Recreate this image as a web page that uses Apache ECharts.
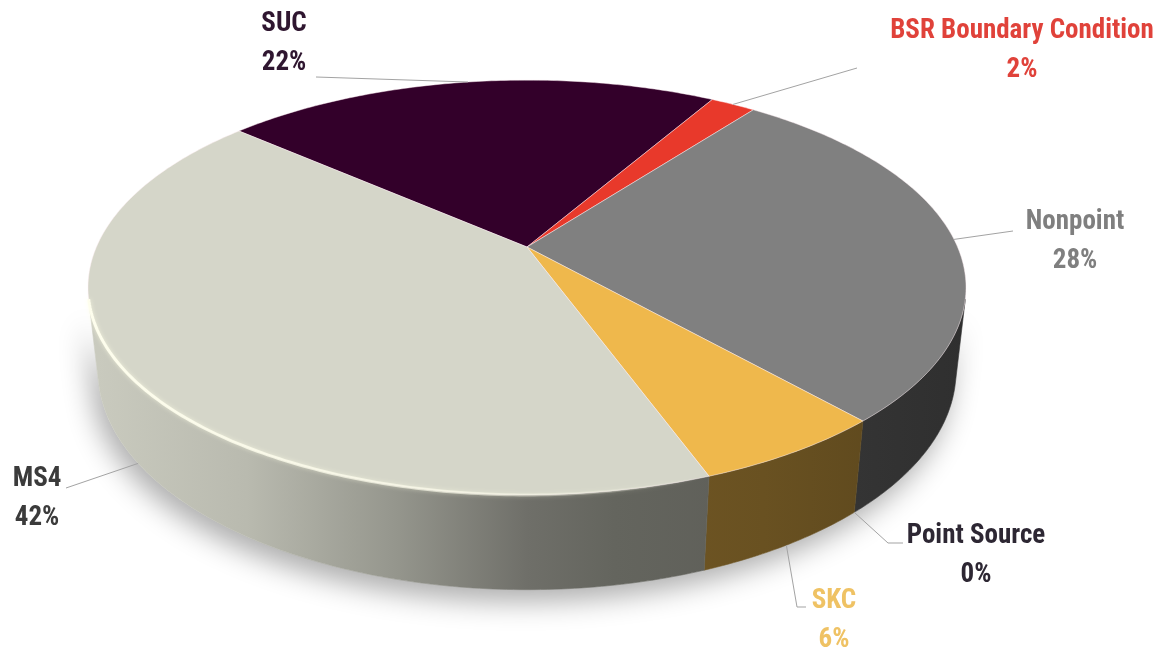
<!DOCTYPE html>
<html>
<head>
<meta charset="utf-8">
<script src="https://cdn.jsdelivr.net/npm/echarts@6/dist/echarts.min.js"></script>
<style>
  html, body { margin: 0; padding: 0; background: #ffffff; }
  #chart { width: 1168px; height: 649px; }
</style>
</head>
<body>
<div id="chart"></div>
<script>
// Load share by source category (percent)
const categories = ['SUC', 'BSR Boundary Condition', 'Nonpoint', 'Point Source', 'SKC', 'MS4'];
const shares = [22, 2, 28, 0, 6, 42];

// Slice and label colours
const sliceColors = ['#33002a', '#e8392b', '#808080', '#3a3a3a', '#efb84c', '#d5d6c9'];
const labelColors = ['#2f1630', '#e0423a', '#7f7f7f', '#2d2733', '#efc264', '#3b3b3b'];

// Perspective view of the disc: apex position, focal length, camera distance,
// tilt (degrees), disc thickness (in radii) and the angle where the first slice starts
const view = { cx: 527, cy: 247, focal: 1953, dist: 4.536, tilt: 27.6, depth: 0.22, startAngle: 139 };

// Label blocks: centre of the first text line and the leader's end point(s)
const labelLayout = {
  'SUC': { x: 284, y: 24, line: [[316, 77]] },
  'BSR Boundary Condition': { x: 1022, y: 31, line: [[857, 68]] },
  'Nonpoint': { x: 1075, y: 222, line: [[1013, 231]] },
  'Point Source': { x: 976, y: 536, line: [[888, 543], [903, 543]] },
  'SKC': { x: 834, y: 601, line: [[797, 607], [806, 607]] },
  'MS4': { x: 37, y: 479, line: [[66, 488]] }
};
const lineGap = 39;
const labelFont = "bold 27px 'Liberation Sans Narrow', 'Roboto Condensed', 'DejaVu Sans Condensed', sans-serif";

const RAD = Math.PI / 180;
const ca = Math.cos(view.tilt * RAD), sa = Math.sin(view.tilt * RAD);

function projectXY(X, Y, z) {
  const d = view.dist + Y * ca - z * sa;
  const up = Y * sa + z * ca;
  return [view.cx + view.focal * X / d, view.cy - view.focal * up / d];
}
function project(phi, z) {
  return projectXY(Math.cos(phi * RAD), Math.sin(phi * RAD), z);
}
function arc(a0, a1, z) {
  const pts = [];
  const n = Math.max(2, Math.ceil(Math.abs(a0 - a1) / 0.75));
  for (let i = 0; i <= n; i++) pts.push(project(a0 + (a1 - a0) * i / n, z));
  return pts;
}

// Slice angle ranges, clockwise from the start angle
const total = shares.reduce((a, b) => a + b, 0);
const sliceAngles = [];
(function () {
  let acc = 0;
  shares.forEach(v => {
    const a0 = view.startAngle - acc / total * 360;
    acc += v;
    const a1 = view.startAngle - acc / total * 360;
    sliceAngles.push([a0, a1]);
  });
})();

// Angular range of the outer wall that faces the camera
const edge = Math.asin(1 / (view.dist * ca)) / RAD;
const frontLo = -180 + edge, frontHi = -edge;
function frontSegments(a0, a1) {
  const segs = [];
  for (let k = -1; k <= 1; k++) {
    const lo = frontLo + 360 * k, hi = frontHi + 360 * k;
    const s = Math.min(a0, hi), e = Math.max(a1, lo);
    if (s - e > 0.01) segs.push([s, e]);
  }
  return segs;
}

function shade(hex, f) {
  const n = parseInt(hex.slice(1), 16);
  const r = Math.round(((n >> 16) & 255) * f), g = Math.round(((n >> 8) & 255) * f), b = Math.round((n & 255) * f);
  return 'rgb(' + r + ',' + g + ',' + b + ')';
}
const wallLight = [[0, 0.95], [0.18, 0.87], [0.35, 0.7], [0.5, 0.52], [0.6, 0.47], [0.77, 0.44], [1, 0.37]];
const leftX = project(180 + edge, 0)[0], rightX = project(-edge, 0)[0];
function wallFill(color) {
  return new echarts.graphic.LinearGradient(leftX, 0, rightX, 0,
    wallLight.map(s => ({ offset: s[0], color: shade(color, s[1]) })), true);
}

const seriesData = shares.map((v, i) => ({ name: categories[i], value: v }));
const chart = echarts.init(document.getElementById('chart'), null, { renderer: 'canvas' });

chart.setOption({
  backgroundColor: '#ffffff',
  animation: false,
  series: [
    {
      // outer walls with the soft drop shadow beneath the disc
      type: 'custom',
      coordinateSystem: 'none',
      z: 1,
      silent: true,
      data: seriesData,
      renderItem: function (params) {
        const i = params.dataIndex;
        const [a0, a1] = sliceAngles[i];
        const children = [];
        if (i === 0) {
          const outline = arc(frontHi, frontLo, 0).concat(arc(frontLo, frontHi, -view.depth));
          children.push({
            type: 'polygon', z2: 0,
            shape: { points: outline },
            style: { fill: '#ffffff', shadowBlur: 28, shadowColor: 'rgba(0,0,0,0.32)', shadowOffsetX: -6, shadowOffsetY: 12 }
          });
        }
        frontSegments(a0, a1).forEach(([s, e]) => {
          const pts = arc(s, e, 0).concat(arc(e, s, -view.depth));
          children.push({
            type: 'polygon', z2: 1,
            shape: { points: pts },
            style: { fill: wallFill(sliceColors[i]), stroke: wallFill(sliceColors[i]), lineWidth: 0.6 }
          });
        });
        return { type: 'group', children: children };
      }
    },
    {
      // top faces of the slices
      type: 'custom',
      coordinateSystem: 'none',
      z: 2,
      silent: true,
      data: seriesData,
      renderItem: function (params) {
        const i = params.dataIndex;
        const [a0, a1] = sliceAngles[i];
        const children = [];
        if (a0 - a1 > 0.001) {
          const pts = [projectXY(0, 0, 0)].concat(arc(a0, a1, 0));
          children.push({
            type: 'polygon',
            shape: { points: pts },
            style: { fill: sliceColors[i], stroke: 'rgba(255,240,245,0.45)', lineWidth: 1 }
          });
          // bevel highlight along the front rim
          frontSegments(a0, a1).forEach(([s, e]) => {
            children.push({
              type: 'polyline',
              shape: { points: arc(s, e, 0) },
              style: {
                fill: null, lineWidth: 3,
                stroke: new echarts.graphic.LinearGradient(leftX, 0, 700, 0, [
                  { offset: 0, color: 'rgba(255,255,238,0.95)' },
                  { offset: 0.6, color: 'rgba(255,255,238,0.6)' },
                  { offset: 1, color: 'rgba(255,255,238,0)' }
                ], true),
                shadowBlur: 4, shadowColor: 'rgba(255,255,230,0.7)'
              }
            });
          });
        }
        return { type: 'group', children: children };
      }
    },
    {
      // category labels with leader lines
      type: 'custom',
      coordinateSystem: 'none',
      z: 3,
      silent: true,
      data: seriesData,
      renderItem: function (params) {
        const i = params.dataIndex;
        const name = categories[i];
        const lay = labelLayout[name];
        const [a0, a1] = sliceAngles[i];
        const mid = (a0 + a1) / 2;
        const onWall = Math.sin(mid * RAD) < -0.3;
        const start = onWall ? project(mid, -view.depth) : project(mid, 0);
        const pct = Math.round(shares[i] / total * 100) + '%';
        return {
          type: 'group',
          children: [
            {
              type: 'polyline',
              shape: { points: [start].concat(lay.line) },
              style: { fill: null, stroke: '#a3a3a3', lineWidth: 1 }
            },
            {
              type: 'text',
              style: { text: name, x: lay.x, y: lay.y, align: 'center', verticalAlign: 'middle', font: labelFont, fill: labelColors[i] }
            },
            {
              type: 'text',
              style: { text: pct, x: lay.x, y: lay.y + lineGap, align: 'center', verticalAlign: 'middle', font: labelFont, fill: labelColors[i] }
            }
          ]
        };
      }
    }
  ]
});
</script>
</body>
</html>
